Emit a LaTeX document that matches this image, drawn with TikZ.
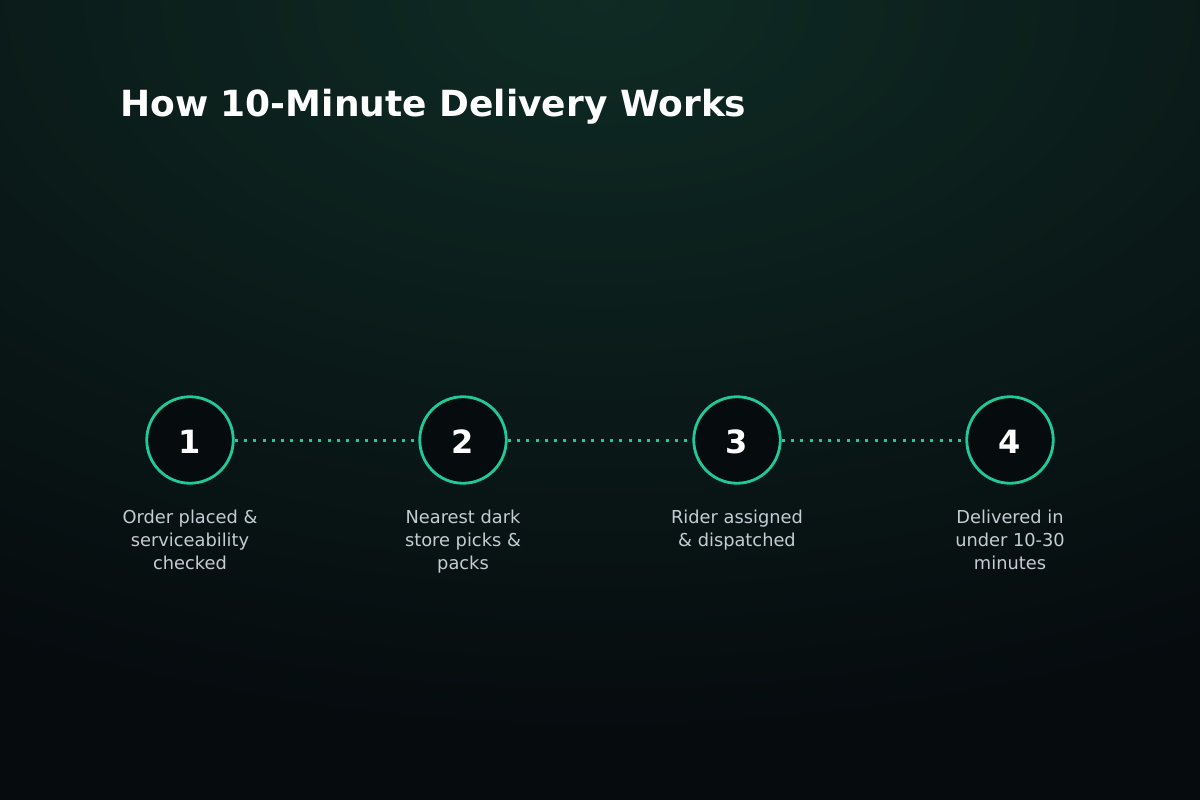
\documentclass[tikz,border=0pt]{standalone}
\usepackage{fontspec}
\setmainfont{DejaVu Sans}
\definecolor{bgc}{HTML}{060B0E}
\definecolor{glowc}{HTML}{0F2B24}
\colorlet{midc}{glowc!55!bgc}
\definecolor{teal}{HTML}{20C997}
\definecolor{labc}{HTML}{C5CCD4}
\pgfdeclareradialshading{glow}{\pgfpoint{0bp}{0bp}}{color(0bp)=(glowc); color(11bp)=(midc); color(25bp)=(bgc); color(50bp)=(bgc)}
\tikzset{
  stepcircle/.style={circle, draw=teal, line width=2.8pt, fill=bgc, minimum size=86.5pt, inner sep=0pt},
  stepnum/.style={text=white, inner sep=0pt, font=\fontsize{32}{38}\selectfont\bfseries},
  steplabel/.style={anchor=north, inner sep=0pt, align=center, text=labc,
    font=\fontsize{17.8}{23}\selectfont},
  dotline/.style={draw=teal, line width=3pt, dash pattern=on 3pt off 6.3pt},
}
\begin{document}
\begin{tikzpicture}[x=1pt,y=-1pt]
\useasboundingbox (0,0) rectangle (1200,800);
\fill[bgc] (0,0) rectangle (1200,800);
\begin{scope}
\clip (0,0) rectangle (1200,800);
\shade[shading=glow] (600,0) ellipse [x radius=1250, y radius=740];
\end{scope}
\node[anchor=base west, text=white, inner sep=0pt, font=\fontsize{36}{42}\selectfont\bfseries] (title) at (120,117) {How 10-Minute Delivery Works};
\node[stepcircle] (c1) at (190,440) {};
\node[stepcircle] (c2) at (463,440) {};
\node[stepcircle] (c3) at (737,440) {};
\node[stepcircle] (c4) at (1010,440) {};
\draw[dotline] (c1) -- (c2);
\draw[dotline] (c2) -- (c3);
\draw[dotline] (c3) -- (c4);
\node[stepnum] (n1) at (190,442) {1};
\node[stepnum] (n2) at (463,442) {2};
\node[stepnum] (n3) at (737,442) {3};
\node[stepnum] (n4) at (1010,442) {4};
\node[steplabel] (l1) at (190,510) {Order placed \&\\serviceability\\checked};
\node[steplabel] (l2) at (463,510) {Nearest dark\\store picks \&\\packs};
\node[steplabel] (l3) at (737,510) {Rider assigned\\\& dispatched};
\node[steplabel] (l4) at (1010,510) {Delivered in\\under 10-30\\minutes};
\end{tikzpicture}
\end{document}
